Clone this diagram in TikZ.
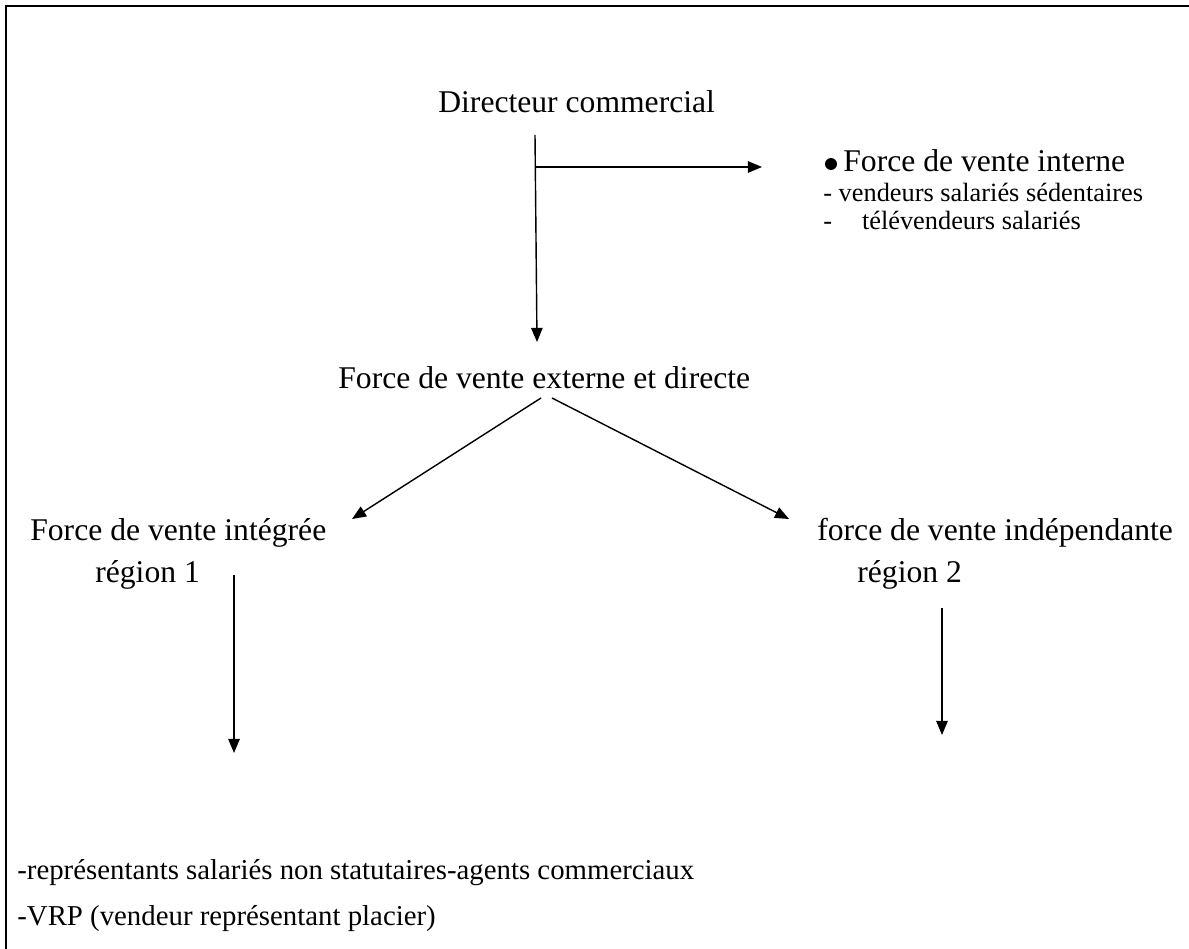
\documentclass[tikz,border=0pt]{standalone}
\usepackage{fontspec}
\setmainfont{Liberation Serif}
\usetikzlibrary{arrows.meta}
\begin{document}
\begin{tikzpicture}[x=0.02cm,y=-0.02cm,
  big/.style={font=\fontsize{18}{20}\selectfont, inner sep=0, anchor=base west},
  small/.style={font=\fontsize{15}{17}\selectfont, inner sep=0, anchor=base west},
  foot/.style={font=\fontsize{16.4}{18}\selectfont, inner sep=0, anchor=base west},
  arr/.style={line width=0.8pt, -{Triangle[length=8pt,width=6.5pt]}},
  frameline/.style={line width=1.1pt},
  bulletdot/.style={circle, fill=black, inner sep=0, minimum size=6.8pt}]
  \useasboundingbox (0,0) rectangle (1189,949);

  % open frame: top and left edges only
  \coordinate (fTR) at (1189,6);
  \coordinate (fTL) at (6,6);
  \coordinate (fBL) at (6,949);
  \draw[frameline] (fTR) -- (fTL) -- (fBL);

  % labels
  \node[big] (dir) at (438,113) {Directeur commercial};
  \node[bulletdot] (dot) at (831,164) {};
  \node[big] (fvi) at (843,172) {Force de vente interne};
  \node[small] (vss) at (823,202) {- vendeurs salariés sédentaires};
  \node[small] (tel) at (823,230) {-\hspace{17pt}télévendeurs salariés};
  \node[big] (ext) at (338,388) {Force de vente externe et directe};
  \node[big] (integ) at (30,540) {Force de vente intégrée};
  \node[big] (reg1) at (95,582) {région 1};
  \node[big] (indep) at (817,540) {force de vente indépendante};
  \node[big] (reg2) at (857,582) {région 2};
  \node[foot] (rep) at (17,879) {-représentants salariés non statutaires-agents commerciaux};
  \node[foot] (vrp) at (17,925) {-VRP (vendeur représentant placier)};

  % connector end points
  \coordinate (dirOut) at (535,135);
  \coordinate (extIn) at (537,342);
  \coordinate (branch) at (535,167);
  \coordinate (fviIn) at (762,167);
  \coordinate (extOutL) at (541,398);
  \coordinate (integIn) at (352,519);
  \coordinate (extOutR) at (552,398);
  \coordinate (indepIn) at (789,519);
  \coordinate (integOut) at (234,575);
  \coordinate (integEnd) at (234,753);
  \coordinate (indepOut) at (942,608);
  \coordinate (indepEnd) at (942,735);

  % connectors
  \draw[arr] (dirOut) -- (extIn);
  \draw[arr] (branch) -- (fviIn);
  \draw[arr] (extOutL) -- (integIn);
  \draw[arr] (extOutR) -- (indepIn);
  \draw[arr] (integOut) -- (integEnd);
  \draw[arr] (indepOut) -- (indepEnd);
\end{tikzpicture}
\end{document}
